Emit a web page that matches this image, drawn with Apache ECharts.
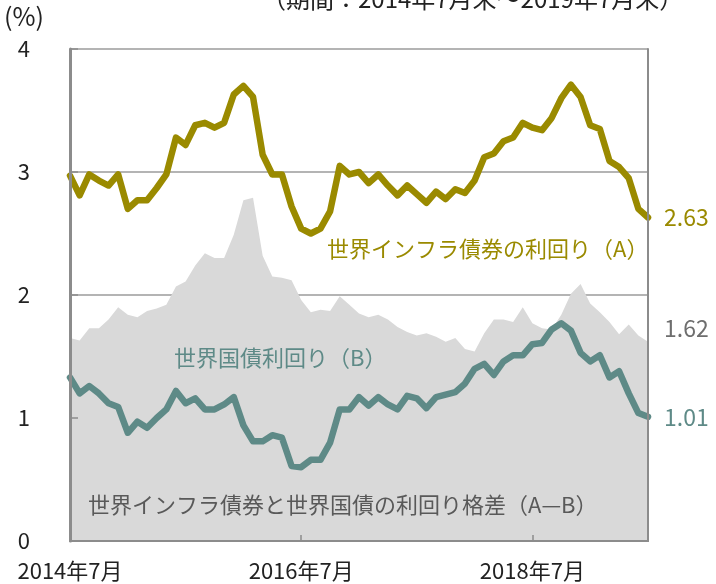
<!DOCTYPE html>
<html>
<head>
<meta charset="utf-8">
<script src="https://cdn.jsdelivr.net/npm/echarts@6/dist/echarts.min.js"></script>
<style>
  html, body { margin: 0; padding: 0; background: #fff; }
  #chart { width: 716px; height: 584px; }
</style>
</head>
<body>
<div id="chart"></div>
<script>
// monthly, 2014年7月 .. 2019年7月
const months = [];
for (let y = 2014; y <= 2019; y++) {
  for (let m = 1; m <= 12; m++) {
    if ((y === 2014 && m < 7) || (y === 2019 && m > 7)) continue;
    months.push(y + '年' + m + '月');
  }
}

// 世界インフラ債券の利回り（A）
const infraYield = [
  2.97, 2.81, 2.98, 2.93, 2.89, 2.98, 2.70, 2.77, 2.77, 2.87,
  2.98, 3.28, 3.22, 3.38, 3.40, 3.36, 3.40, 3.63, 3.70, 3.61,
  3.14, 2.98, 2.98, 2.72, 2.54, 2.50, 2.54, 2.68, 3.05, 2.98,
  3.00, 2.91, 2.98, 2.89, 2.81, 2.89, 2.82, 2.75, 2.84, 2.78,
  2.86, 2.83, 2.93, 3.12, 3.15, 3.25, 3.28, 3.40, 3.36, 3.34,
  3.44, 3.60, 3.71, 3.61, 3.38, 3.35, 3.09, 3.04, 2.95, 2.70,
  2.63
];

// 世界国債利回り（B）
const govYield = [
  1.33, 1.20, 1.26, 1.20, 1.12, 1.09, 0.88, 0.97, 0.92, 1.00,
  1.07, 1.22, 1.12, 1.16, 1.07, 1.07, 1.11, 1.17, 0.94, 0.81,
  0.81, 0.86, 0.84, 0.61, 0.60, 0.66, 0.66, 0.80, 1.07, 1.07,
  1.17, 1.10, 1.17, 1.11, 1.07, 1.18, 1.16, 1.08, 1.17, 1.19,
  1.21, 1.28, 1.40, 1.44, 1.35, 1.46, 1.51, 1.51, 1.60, 1.61,
  1.72, 1.77, 1.71, 1.53, 1.46, 1.51, 1.33, 1.38, 1.20, 1.04,
  1.01
];

// 利回り格差（A—B）
const spread = [
  1.65, 1.63, 1.73, 1.73, 1.80, 1.90, 1.84, 1.82, 1.87, 1.89,
  1.92, 2.07, 2.11, 2.24, 2.34, 2.30, 2.30, 2.49, 2.77, 2.79,
  2.32, 2.15, 2.14, 2.12, 1.96, 1.86, 1.88, 1.87, 1.99, 1.92,
  1.85, 1.82, 1.84, 1.80, 1.74, 1.70, 1.67, 1.69, 1.66, 1.62,
  1.65, 1.56, 1.54, 1.69, 1.80, 1.80, 1.78, 1.90, 1.77, 1.73,
  1.72, 1.84, 2.01, 2.09, 1.93, 1.86, 1.78, 1.68, 1.76, 1.67,
  1.62
];

const FONT = '"Noto Sans CJK JP", "Noto Sans", sans-serif';
const OLIVE = '#9a8a00';
const TEAL = '#5e8a87';
const AREA = '#d9d9d9';
const FRAME = '#8c8c8c';

const chart = echarts.init(document.getElementById('chart'));

const yBase = { type: 'value', min: 0, max: 4, interval: 1 };

chart.setOption({
  animation: false,
  textStyle: { fontFamily: FONT },
  grid: { left: 70, right: 68, top: 49, bottom: 43 },
  xAxis: [
    {
      type: 'category',
      data: months,
      boundaryGap: false,
      z: 5,
      axisLine: { lineStyle: { color: FRAME, width: 2 } },
      axisTick: { inside: true, length: 6, interval: 23, lineStyle: { color: FRAME, width: 1.5 } },
      axisLabel: {
        interval: 23, color: '#222', fontSize: 22, margin: 19, fontFamily: FONT
      },
      splitLine: { show: false }
    },
    {
      type: 'category',
      data: months,
      boundaryGap: false,
      position: 'top',
      z: 5,
      axisLine: { lineStyle: { color: FRAME, width: 2 } },
      axisTick: { show: false },
      axisLabel: { show: false },
      splitLine: { show: false }
    }
  ],
  yAxis: [
    Object.assign({}, yBase, {
      axisLine: { show: false },
      axisTick: { show: false },
      axisLabel: { color: '#222', fontSize: 22, margin: 40, fontFamily: FONT },
      splitLine: { lineStyle: { color: '#b4b4b4', width: 2 } }
    }),
    Object.assign({}, yBase, {
      position: 'left',
      z: 5,
      axisLine: { show: true, lineStyle: { color: FRAME, width: 3 } },
      axisTick: { show: true, inside: true, length: 8, lineStyle: { color: FRAME, width: 1.5 } },
      axisLabel: { show: false },
      splitLine: { show: false }
    }),
    Object.assign({}, yBase, {
      position: 'right',
      z: 5,
      axisLine: { show: true, lineStyle: { color: FRAME, width: 2 } },
      axisTick: { show: false },
      axisLabel: { show: false },
      splitLine: { show: false }
    })
  ],
  series: [
    {
      name: '世界インフラ債券と世界国債の利回り格差（A—B）',
      type: 'line',
      data: spread,
      symbol: 'none',
      z: 1,
      lineStyle: { width: 0 },
      areaStyle: { color: AREA, opacity: 1 },
      endLabel: {
        show: true, distance: 16, offset: [0, -13], color: '#6e6e6e', fontSize: 23, fontFamily: FONT,
        formatter: p => p.value.toFixed(2)
      }
    },
    {
      name: '世界インフラ債券の利回り（A）',
      type: 'line',
      data: infraYield,
      symbol: 'none',
      z: 3,
      lineStyle: { color: OLIVE, width: 6.5, join: 'round', cap: 'round' },
      endLabel: {
        show: true, distance: 16, color: OLIVE, fontSize: 23, fontFamily: FONT,
        formatter: p => p.value.toFixed(2)
      }
    },
    {
      name: '世界国債利回り（B）',
      type: 'line',
      data: govYield,
      symbol: 'none',
      z: 3,
      lineStyle: { color: TEAL, width: 6.5, join: 'round', cap: 'round' },
      endLabel: {
        show: true, distance: 16, color: TEAL, fontSize: 23, fontFamily: FONT,
        formatter: p => p.value.toFixed(2)
      }
    }
  ],
  graphic: [
    {
      type: 'text', left: 262, top: -13, z: 10,
      style: { text: '（期間：2014年7月末～2019年7月末）', fill: '#222', font: '24px ' + FONT }
    },
    {
      type: 'text', left: 4, top: 4, z: 10,
      style: { text: '(%)', fill: '#222', font: '25px ' + FONT }
    },
    {
      type: 'text', left: 327, top: 238, z: 10,
      style: { text: '世界インフラ債券の利回り（A）', fill: OLIVE, font: '22px ' + FONT }
    },
    {
      type: 'text', left: 174, top: 347, z: 10,
      style: { text: '世界国債利回り（B）', fill: TEAL, font: '22px ' + FONT }
    },
    {
      type: 'text', left: 88, top: 494, z: 10,
      style: { text: '世界インフラ債券と世界国債の利回り格差（A—B）', fill: '#595959', font: '22px ' + FONT }
    }
  ]
});
</script>
</body>
</html>
